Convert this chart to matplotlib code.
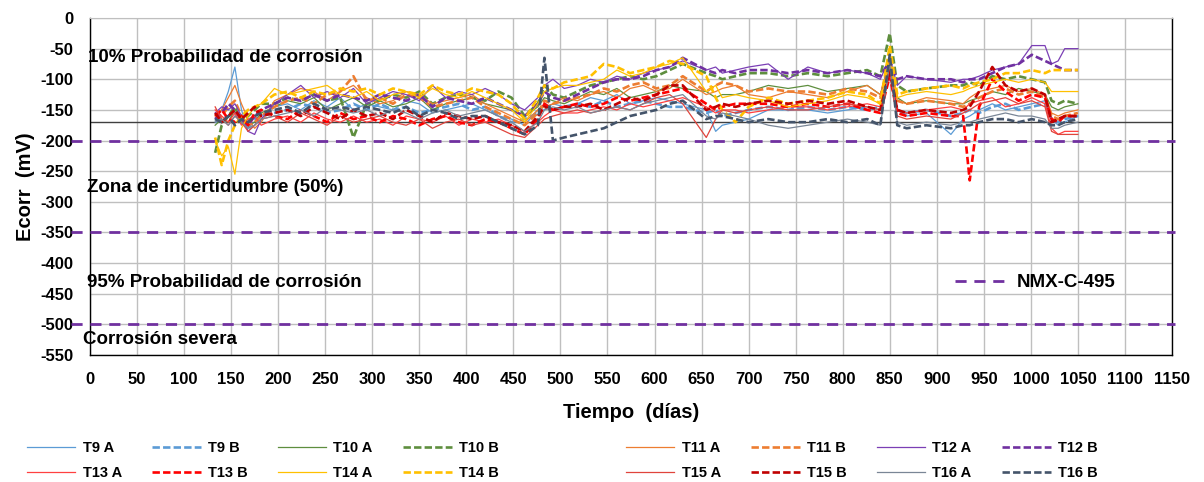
import matplotlib
matplotlib.use("Agg")
import matplotlib.pyplot as plt

# Time axis (days), shared by all series
days = [133, 140, 147, 154, 161, 168, 175, 182,
        196, 210, 224, 238, 252, 266, 280, 294,
        308, 322, 336, 350, 364, 378, 392, 406,
        420, 434, 448, 462, 476, 483, 492, 504,
        518, 532, 546, 560, 574, 588, 602, 616,
        630, 655, 665, 672, 686, 700, 721, 742,
        763, 784, 805, 826, 840, 850, 858, 868,
        889, 915, 928, 935, 945, 959, 973, 987,
        1001, 1015, 1022, 1029, 1036, 1050]

# Ecorr values (mV)
t9a = [-165, -150, -120, -80, -150, -185, -175, -160,
       -145, -140, -150, -135, -145, -130, -150, -140,
       -145, -150, -135, -140, -155, -150, -145, -140,
       -150, -160, -165, -175, -150, -150, -140, -145,
       -140, -130, -135, -125, -140, -135, -130, -135,
       -140, -150, -185, -175, -170, -165, -150, -150,
       -150, -155, -150, -145, -150, -80, -150, -160,
       -155, -190, -165, -160, -150, -140, -150, -145,
       -140, -135, -165, -175, -170, -160]
t9b = [-170, -165, -160, -155, -170, -180, -165, -160,
       -155, -150, -140, -145, -155, -150, -140, -150,
       -140, -150, -145, -155, -150, -145, -140, -150,
       -145, -160, -170, -165, -155, -140, -150, -145,
       -140, -145, -135, -145, -140, -135, -140, -145,
       -145, -155, -150, -160, -155, -150, -145, -150,
       -145, -150, -145, -150, -145, -85, -150, -155,
       -150, -160, -155, -150, -155, -145, -140, -150,
       -145, -140, -165, -170, -165, -160]
t10a = [-175, -165, -170, -150, -160, -175, -170, -155,
        -145, -135, -140, -130, -150, -140, -130, -145,
        -135, -145, -140, -130, -150, -140, -135, -130,
        -140, -145, -150, -160, -145, -130, -135, -140,
        -130, -120, -125, -115, -130, -125, -120, -110,
        -115, -120, -130, -125, -125, -120, -110, -115,
        -110, -120, -115, -110, -125, -70, -130, -140,
        -135, -140, -140, -135, -130, -120, -125, -115,
        -120, -125, -145, -150, -145, -140]
t10b = [-220, -175, -160, -145, -170, -160, -150, -140,
        -140, -130, -135, -125, -135, -130, -195, -140,
        -135, -125, -130, -120, -140, -130, -125, -130,
        -135, -120, -130, -160, -140, -110, -125, -130,
        -120, -110, -105, -100, -95, -100, -95, -85,
        -75, -90, -95, -100, -95, -90, -90, -95,
        -90, -95, -90, -85, -95, -25, -110, -120,
        -115, -110, -110, -105, -110, -95, -100, -95,
        -100, -105, -135, -140, -135, -140]
t11a = [-160, -150, -130, -110, -140, -165, -180, -170,
        -135, -125, -115, -120, -135, -120, -110, -130,
        -140, -135, -120, -125, -140, -135, -130, -125,
        -140, -150, -160, -170, -150, -145, -140, -130,
        -135, -125, -120, -130, -115, -110, -120, -115,
        -100, -125, -120, -115, -110, -125, -130, -120,
        -125, -130, -120, -110, -125, -70, -135, -140,
        -130, -135, -140, -130, -120, -115, -110, -120,
        -115, -125, -155, -160, -155, -150]
t11b = [-165, -160, -145, -135, -160, -175, -170, -160,
        -145, -135, -130, -140, -125, -120, -95, -135,
        -130, -140, -125, -130, -145, -140, -135, -130,
        -145, -155, -165, -175, -155, -135, -140, -135,
        -130, -125, -115, -120, -110, -105, -115, -110,
        -95, -120, -110, -105, -110, -120, -115, -120,
        -120, -125, -115, -120, -130, -65, -135, -140,
        -135, -140, -145, -140, -130, -120, -115, -125,
        -120, -130, -160, -165, -160, -155]
t12a = [-155, -145, -150, -140, -160, -185, -190, -165,
        -140, -125, -110, -130, -120, -130, -115, -140,
        -130, -120, -125, -135, -110, -130, -120, -125,
        -115, -125, -140, -150, -130, -110, -100, -115,
        -110, -100, -105, -95, -100, -90, -85, -80,
        -70, -85, -80, -90, -85, -80, -75, -100,
        -80, -90, -85, -90, -100, -65, -110, -95,
        -100, -105, -100, -100, -95, -85, -80, -75,
        -45, -45, -75, -70, -50, -50]
t12b = [-165, -155, -140, -150, -165, -175, -160, -150,
        -140, -130, -135, -125, -135, -125, -130, -135,
        -125, -130, -135, -125, -145, -130, -135, -140,
        -130, -140, -150, -160, -140, -120, -130, -135,
        -125, -115, -105, -100, -100, -95, -85, -80,
        -65, -85, -90, -85, -90, -85, -85, -90,
        -85, -90, -85, -90, -95, -70, -100, -95,
        -100, -100, -105, -100, -100, -90, -80, -75,
        -60, -70, -75, -80, -85, -85]
t13a = [-150, -160, -170, -155, -175, -165, -160, -175,
        -165, -160, -170, -155, -165, -170, -160, -170,
        -165, -175, -160, -165, -170, -160, -175, -165,
        -170, -165, -175, -185, -170, -160, -150, -155,
        -155, -150, -145, -150, -140, -145, -140, -135,
        -130, -145, -155, -150, -150, -155, -150, -145,
        -145, -150, -145, -140, -145, -80, -150, -155,
        -150, -145, -150, -140, -135, -130, -145, -140,
        -130, -140, -180, -190, -185, -185]
t13b = [-160, -150, -165, -170, -160, -175, -155, -150,
        -160, -165, -150, -160, -170, -155, -165, -160,
        -170, -160, -165, -175, -165, -160, -170, -175,
        -165, -170, -180, -190, -165, -140, -150, -145,
        -140, -145, -140, -130, -135, -130, -125, -120,
        -115, -140, -150, -145, -140, -140, -140, -145,
        -140, -145, -140, -150, -155, -95, -155, -160,
        -155, -160, -160, -265, -145, -100, -120, -135,
        -125, -130, -165, -170, -160, -160]
t14a = [-200, -225, -210, -255, -180, -160, -145, -140,
        -115, -125, -120, -115, -110, -125, -130, -120,
        -135, -125, -120, -130, -115, -125, -130, -120,
        -130, -140, -150, -170, -140, -120, -115, -110,
        -110, -105, -100, -85, -95, -90, -80, -75,
        -65, -120, -110, -130, -125, -130, -135, -145,
        -140, -135, -125, -130, -140, -70, -130, -125,
        -120, -125, -120, -115, -110, -105, -100, -105,
        -100, -105, -120, -120, -120, -120]
t14b = [-195, -240, -200, -175, -160, -150, -145, -140,
        -125, -120, -130, -120, -125, -115, -120, -115,
        -125, -115, -120, -125, -110, -120, -125, -115,
        -120, -125, -140, -165, -130, -110, -115, -105,
        -100, -95, -75, -80, -90, -85, -80, -70,
        -75, -95, -130, -150, -170, -145, -130, -140,
        -135, -130, -120, -125, -140, -45, -125, -120,
        -115, -110, -115, -110, -105, -100, -90, -90,
        -85, -90, -85, -85, -85, -85]
t15a = [-145, -165, -175, -160, -170, -185, -175, -165,
        -160, -170, -155, -165, -175, -160, -170, -165,
        -160, -170, -175, -165, -180, -170, -165, -175,
        -170, -180, -190, -195, -175, -165, -160, -155,
        -150, -155, -150, -145, -150, -140, -130, -125,
        -140, -195, -165, -150, -155, -150, -145, -150,
        -150, -145, -140, -145, -150, -90, -160, -165,
        -160, -165, -155, -150, -140, -135, -130, -140,
        -135, -145, -185, -190, -190, -190]
t15b = [-155, -170, -160, -150, -165, -155, -145, -160,
        -155, -150, -160, -145, -155, -165, -150, -160,
        -155, -165, -150, -160, -170, -155, -160, -165,
        -160, -170, -175, -185, -160, -145, -150, -145,
        -145, -140, -150, -140, -130, -135, -125, -110,
        -110, -150, -145, -140, -145, -140, -135, -140,
        -135, -140, -135, -145, -150, -85, -150, -155,
        -150, -155, -150, -145, -120, -80, -110, -120,
        -115, -125, -170, -165, -160, -160]
t16a = [-170, -165, -175, -160, -170, -180, -175, -165,
        -160, -155, -150, -160, -145, -150, -155, -150,
        -160, -150, -155, -165, -155, -150, -160, -155,
        -150, -160, -170, -185, -170, -150, -145, -150,
        -145, -155, -150, -145, -150, -140, -135, -130,
        -125, -160, -165, -155, -160, -165, -175, -180,
        -175, -170, -165, -170, -175, -75, -170, -175,
        -170, -175, -170, -170, -165, -160, -155, -160,
        -160, -165, -180, -180, -175, -170]
t16b = [-165, -170, -160, -175, -165, -170, -160, -155,
        -150, -145, -155, -140, -150, -145, -150, -145,
        -150, -155, -145, -160, -150, -155, -165, -160,
        -160, -170, -180, -190, -175, -65, -200, -195,
        -190, -185, -180, -170, -160, -155, -150, -140,
        -135, -165, -160, -160, -165, -170, -165, -170,
        -170, -165, -170, -165, -175, -60, -175, -180,
        -175, -180, -175, -175, -170, -165, -165, -170,
        -165, -170, -175, -175, -170, -165]

labels = ["T9 A", "T9 B", "T10 A", "T10 B", "T11 A", "T11 B", "T12 A", "T12 B",
          "T13 A", "T13 B", "T14 A", "T14 B", "T15 A", "T15 B", "T16 A", "T16 B"]
series = [t9a, t9b, t10a, t10b, t11a, t11b, t12a, t12b,
          t13a, t13b, t14a, t14b, t15a, t15b, t16a, t16b]
colors = ["#5B9BD5", "#5B9BD5", "#5E8E3E", "#5E8E3E", "#ED7D31", "#ED7D31", "#7B3FB5", "#7030A0",
          "#FF4040", "#FF0000", "#FFC000", "#FFC000", "#E0443C", "#C00000", "#7A8696", "#44546A"]

# Reference lines (NMX-C-495 thresholds) and the mean line
nmx_levels = [-200, -350, -500]
nmx_x = [-20, 1153]
mean_level = -170

zones = ["10% Probabilidad de corrosión", "Zona de incertidumbre (50%)",
         "95% Probabilidad de corrosión", "Corrosión severa"]
zone_x = [-2, -3, -3, -7]
zone_y = [-64, -276, -431, -525]


def make_plot():
    plt.rcParams['font.family'] = ['Liberation Sans', 'DejaVu Sans']
    plt.rcParams['axes.unicode_minus'] = False

    fig = plt.figure(figsize=(12.04, 4.82), dpi=100)
    ax = fig.add_axes([90/1204, 1-355/482, (1172-90)/1204, (355-18)/482])

    # Series
    handles = []
    for lab, y, c in zip(labels, series, colors):
        if lab.endswith("A"):
            h, = ax.plot(days, y, color=c, lw=0.9, label=lab, zorder=3)
        else:
            h, = ax.plot(days, y, color=c, lw=1.9, dashes=(2.8, 1.2), label=lab, zorder=3)
        handles.append(h)

    # Mean line
    ax.axhline(mean_level, color="#404040", lw=1.0, zorder=2)

    # NMX-C-495 lines
    nmx_handle = None
    for lev in nmx_levels:
        h, = ax.plot(nmx_x, [lev, lev], color="#7030A0", lw=2.0, dashes=(4, 2.8),
                     clip_on=False, zorder=4)
        nmx_handle = h

    # Zone texts
    for t, x, y in zip(zones, zone_x, zone_y):
        ax.text(x, y, t, fontsize=13.5, fontweight="bold", ha="left", va="center", zorder=5)

    # Axis
    ax.set_xlim(0, 1150)
    ax.set_ylim(-550, 0)
    ax.set_xticks(range(0, 1151, 50))
    ax.set_yticks(range(-550, 1, 50))
    ax.grid(True, color="#BFBFBF", lw=1.0, zorder=0)
    ax.set_axisbelow(True)
    ax.tick_params(length=0, pad=12, labelsize=12)
    for lab in ax.get_xticklabels() + ax.get_yticklabels():
        lab.set_fontweight("bold")
    ax.spines["top"].set_color("#BFBFBF")
    for s in ["left", "bottom", "right"]:
        ax.spines[s].set_color("black")
        ax.spines[s].set_linewidth(1.0)

    ax.set_xlabel("Tiempo  (días)", fontsize=14.5, fontweight="bold", labelpad=12)
    ax.set_ylabel("Ecorr  (mV)", fontsize=14.5, fontweight="bold", labelpad=4)

    # NMX legend inside the plot
    ax.legend([nmx_handle], ["NMX-C-495"], loc="center left", bbox_to_anchor=(0.784, 0.215),
              frameon=False, handlelength=2.9, handletextpad=0.4,
              prop={"size": 13.5, "weight": "bold"})

    # Bottom legends (two halves)
    left_ids = [0, 8, 1, 9, 2, 10, 3, 11]
    right_ids = [4, 12, 5, 13, 6, 14, 7, 15]
    for ids, x0 in [(left_ids, 14/1204), (right_ids, 613/1204)]:
        fig.legend([handles[i] for i in ids], [labels[i] for i in ids], ncol=4,
                   loc="upper left", bbox_to_anchor=(x0, 1-428/482), frameon=False,
                   handlelength=3.3, handletextpad=0.5, columnspacing=2.1,
                   labelspacing=0.75, prop={"size": 10.5, "weight": "bold"})

    fig.savefig("out.png", dpi=100)


if __name__ == '__main__':
    make_plot()
